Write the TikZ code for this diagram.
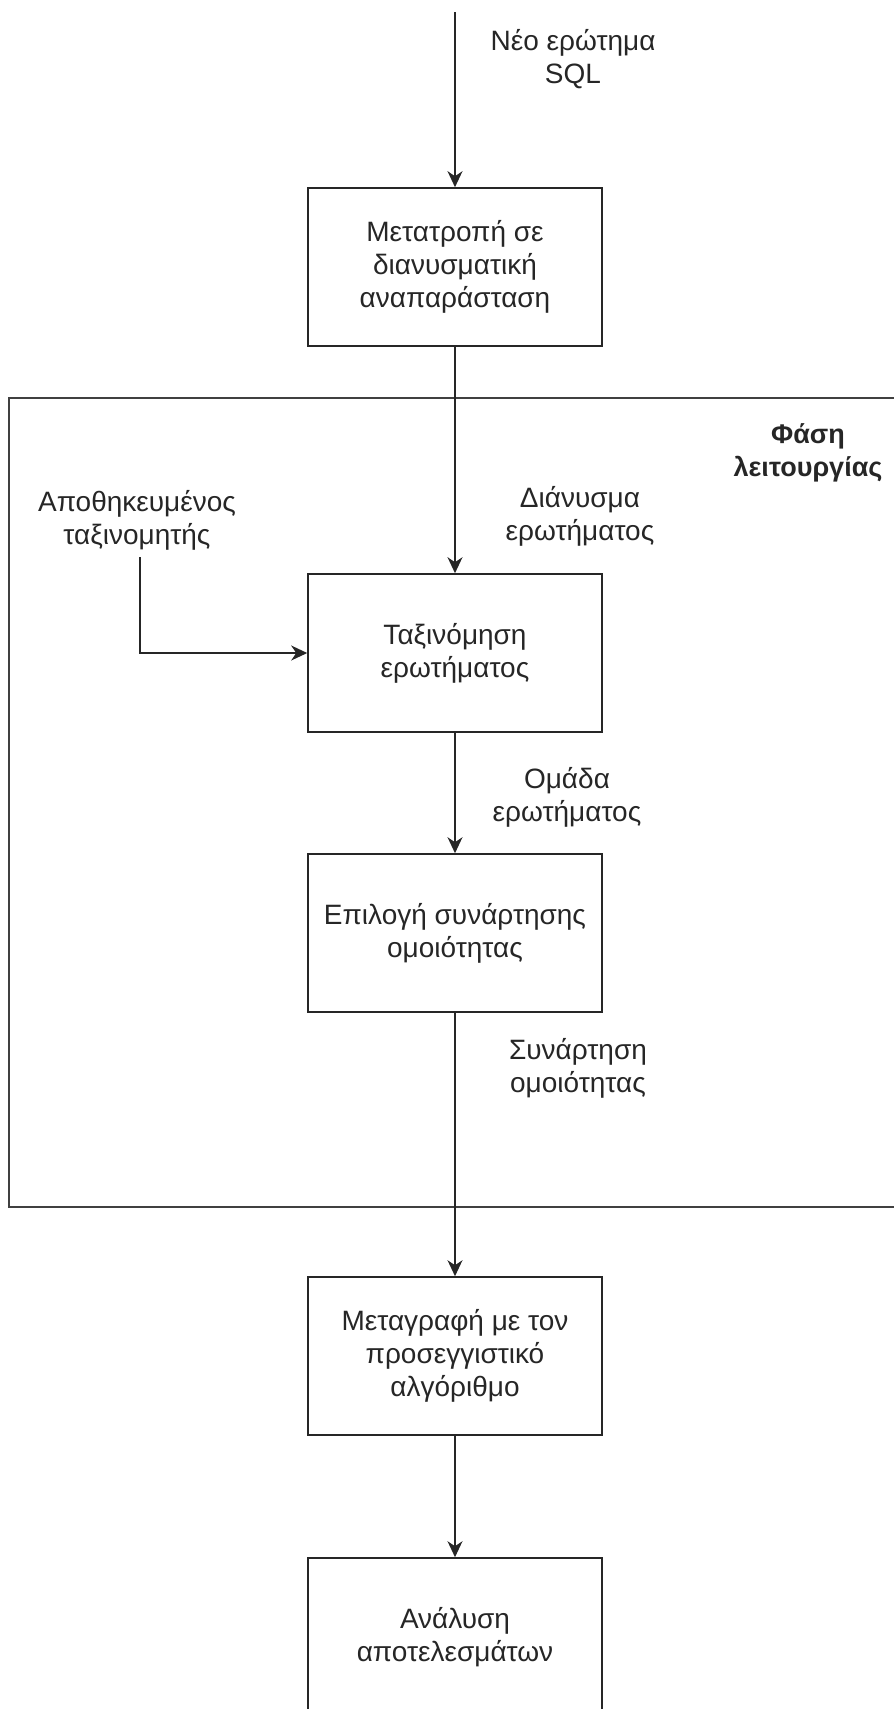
\documentclass[tikz,border=0pt]{standalone}
\usepackage{fontspec}
\setmainfont{Liberation Sans}
\usetikzlibrary{arrows.meta}
\begin{document}
\begin{tikzpicture}[x=1pt,y=-1pt,
  every node/.style={font=\fontsize{28}{33}\selectfont, text=black!85},
  stepbox/.style={draw=black!85, line width=1.6pt, minimum width=294pt, minimum height=158pt, align=center, inner sep=0pt},
  lbl/.style={align=center, inner sep=0pt},
  flow/.style={draw=black!85, line width=1.6pt, -{Stealth[length=16pt,width=15pt,inset=5pt]}}
]
\useasboundingbox (0,0) rectangle (894,1709);

% operating-phase frame (open on the right)
\draw[black!75, line width=2.4pt] (896,398) -- (9,398) -- (9,1207) -- (896,1207);

% process steps
\node[stepbox] (conv) at (455,267) {Μετατροπή σε\\διανυσματική\\αναπαράσταση};
\node[stepbox] (cls)  at (455,653) {Ταξινόμηση\\ερωτήματος};
\node[stepbox] (sel)  at (455,933) {Επιλογή συνάρτησης\\ομοιότητας};
\node[stepbox] (rew)  at (455,1356) {Μεταγραφή με τον\\προσεγγιστικό\\αλγόριθμο};
\node[stepbox] (res)  at (455,1637) {Ανάλυση\\αποτελεσμάτων};

% free ends of incoming connectors
\coordinate (in)  at (455,12);
\coordinate (clf) at (140,557);

% connector labels
\node[lbl] (lin)  at (573,59)  {Νέο ερώτημα\\SQL};
\node[lbl] (lvec) at (580,516) {Διάνυσμα\\ερωτήματος};
\node[lbl] (lclf) at (137,520) {Αποθηκευμένος\\ταξινομητής};
\node[lbl] (lgrp) at (567,797) {Ομάδα\\ερωτήματος};
\node[lbl] (lsim) at (578,1068) {Συνάρτηση\\ομοιότητας};
\node[lbl, font=\fontsize{27}{33}\selectfont\bfseries] (phase) at (808,453) {Φάση\\λειτουργίας};

% connectors
\draw[flow] (in) -- (conv.north);
\draw[flow] (conv.south) -- (cls.north);
\draw[flow] (clf) |- (cls.west);
\draw[flow] (cls.south) -- (sel.north);
\draw[flow] (sel.south) -- (rew.north);
\draw[flow] (rew.south) -- (res.north);
\end{tikzpicture}
\end{document}
